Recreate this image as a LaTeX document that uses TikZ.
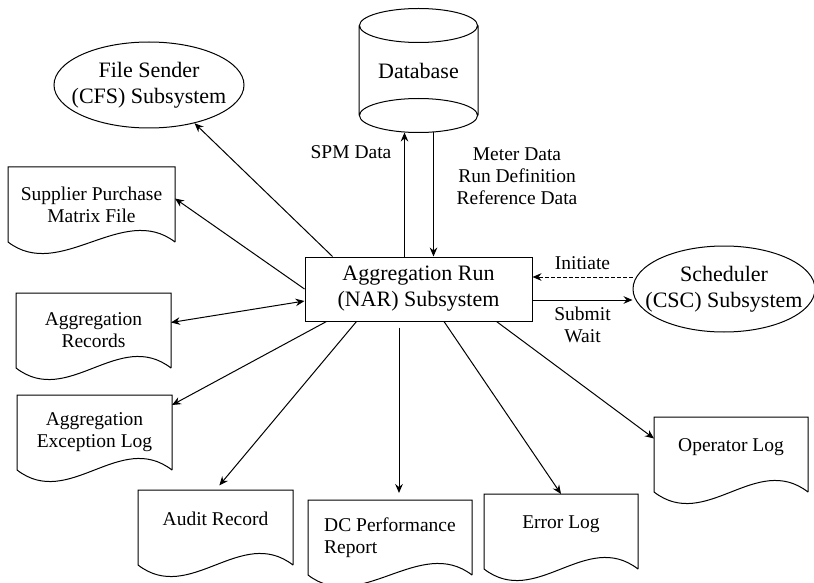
\documentclass[tikz,border=0pt]{standalone}
\usepackage{fontspec}
\setmainfont{Liberation Serif}
\usetikzlibrary{arrows.meta,shapes.geometric,positioning}
\newcommand{\boxfont}{\fontsize{11}{13}\selectfont}
\newcommand{\docfont}{\fontsize{9.75}{11}\selectfont}

\begin{document}
\begin{tikzpicture}[x=0.5pt,y=-0.5pt,line width=0.5pt,
    >={Stealth[length=4.5pt,width=3.8pt,inset=1.5pt]},
    box/.style={draw,rectangle,minimum width=113.5pt,minimum height=32pt,align=center,font=\boxfont},
    sub/.style={draw,ellipse,inner xsep=-8pt,inner ysep=0pt,align=center,font=\boxfont},
    doc/.style={rectangle,outer sep=0pt,minimum width=77.5pt,minimum height=37.5pt,align=center,font=\docfont},
    oneline/.style={text depth=9pt},
    lbl/.style={font=\docfont,align=center}]

  \useasboundingbox (0,0) rectangle (814,583);

  \node[box] (nar) at (418.5,289) {Aggregation Run\\(NAR) Subsystem};
  \node[font=\boxfont,minimum width=59pt,minimum height=61.5pt] (db) at (418.5,70.5) {Database};
  \node[sub,minimum width=95pt,minimum height=43pt] (cfs) at (149,85) {File Sender\\(CFS) Subsystem};
  \node[sub,minimum width=91pt,minimum height=43pt] (csc) at (724,289) {Scheduler\\(CSC) Subsystem};

  \node[doc,minimum width=83.5pt] (spm)    at (91.5,204.5) {Supplier Purchase\\Matrix File};
  \node[doc]                      (recs)   at (93.5,330.5) {Aggregation\\Records};
  \node[doc]                      (exc)    at (94.5,432.5) {Aggregation\\Exception Log};
  \node[doc,oneline]              (audit)  at (215.5,527.5) {Audit Record};
  \node[doc,minimum width=82pt,align=left] (dcrep) at (390,537.5) {DC Performance\\Report};
  \node[doc,oneline,minimum width=77pt] (errlog) at (561,531.5) {Error Log};
  \node[doc,oneline,minimum width=77pt] (oplog)  at (731,454.5) {Operator Log};
  \coordinate (dctop) at ([xshift=4.5pt]dcrep.north);

  % database drum
  \draw ([yshift=-8.5pt]db.north) ellipse [x radius=29.5pt,y radius=8.5pt]
        ([yshift=8.5pt]db.south) ellipse [x radius=29.5pt,y radius=8.5pt]
        ([yshift=-8.5pt]db.north west) -- ([yshift=8.5pt]db.south west)
        ([yshift=-8.5pt]db.north east) -- ([yshift=8.5pt]db.south east);

  % document outlines
  \foreach \d in {spm,recs,exc,audit,dcrep,errlog,oplog}
    \draw (\d.south east) -- (\d.north east) -- (\d.north west) -- (\d.south west)
      .. controls +(26pt,-20pt) and +(-26pt,20pt) .. (\d.south east);

  \path[->]
    ([xshift=14pt]nar.north west)  edge (cfs.-40)
    (nar.west)                     edge ([yshift=3pt]spm.east)
    ([xshift=11pt]nar.south west)  edge ([yshift=-5pt]exc.north east)
    ([xshift=26pt]nar.south west)  edge [shorten >=3pt] (audit.north)
    (nar.south -| dctop)           edge [shorten <=3pt,shorten >=3.5pt] (dctop)
    ([xshift=12.75pt]nar.south)    edge (errlog.north)
    ([xshift=-18pt]nar.south east) edge ([yshift=8pt]oplog.west)
    ([xshift=-7pt]nar.north)       edge node[lbl,pos=0.84,left=3pt] {SPM Data} ([xshift=-7pt]db.south)
    ([xshift=7.5pt]db.south)       edge node[lbl,pos=0.35,right=8pt] {Meter Data\\Run Definition\\Reference Data} ([xshift=7.5pt]nar.north)
    ([yshift=6pt]csc.west)         edge [dash pattern=on 2pt off 1pt] node[lbl,above] {Initiate} ([yshift=6pt]nar.east)
    ([yshift=-5.5pt]nar.east)      edge node[lbl,below] {Submit\\Wait} ([yshift=-5.5pt]csc.west);
  \path[<->] ([yshift=4pt]recs.east) edge ([yshift=-6pt]nar.west);
\end{tikzpicture}
\end{document}
